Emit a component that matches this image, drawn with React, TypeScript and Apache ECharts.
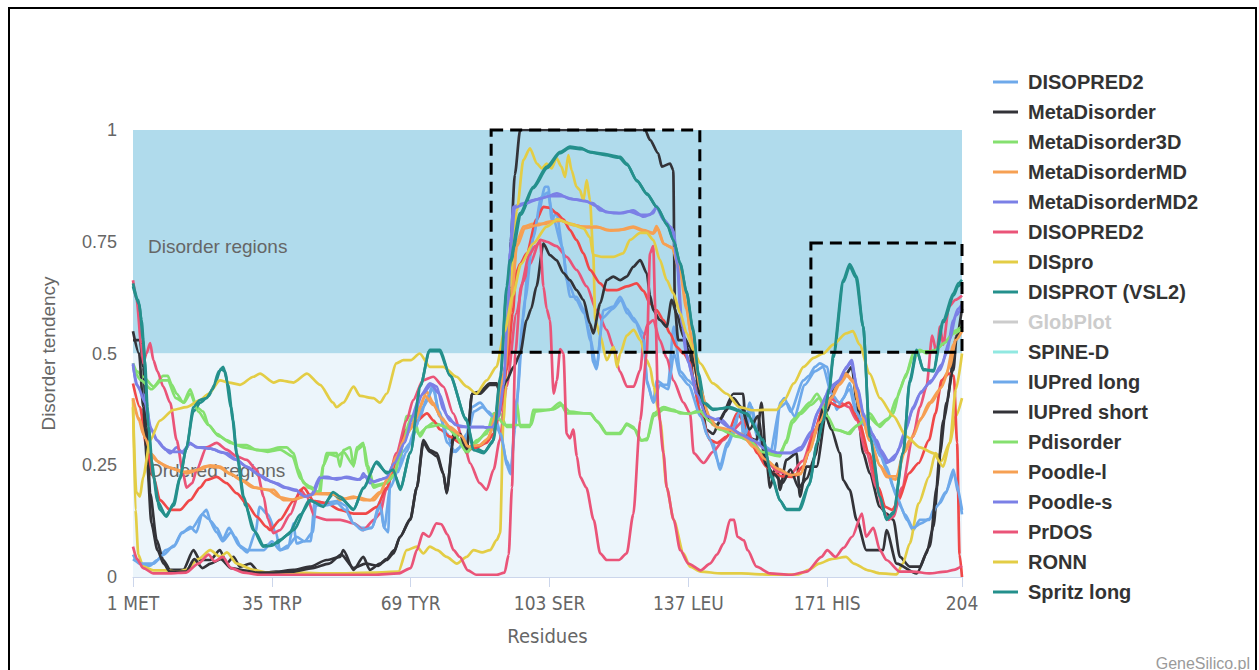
import React, { useEffect, useRef } from 'react';
import * as echarts from 'echarts';

// Residue positions shown on the x axis and their labels
const tickResidues = [1, 35, 69, 103, 137, 171, 204];
const tickLabels = ['1 MET', '35 TRP', '69 TYR', '103 SER', '137 LEU', '171 HIS', '204'];

// Predictor names as shown in the legend
const legendNames = [
  'DISOPRED2', 'MetaDisorder', 'MetaDisorder3D', 'MetaDisorderMD', 'MetaDisorderMD2',
  'DISOPRED2', 'DISpro', 'DISPROT (VSL2)', 'GlobPlot', 'SPINE-D', 'IUPred long',
  'IUPred short', 'Pdisorder', 'Poodle-l', 'Poodle-s', 'PrDOS', 'RONN', 'Spritz long',
];

// Disorder tendency per residue: [residue, score]
const disopred2 = [[1,0.05],[2.5,0.03],[5,0.025],[7,0.038],[9,0.06],[11,0.068],[13,0.098],[15,0.112],[16.5,0.1],[18,0.142],[19,0.15],[20,0.125],[21.5,0.11],[23,0.085],[24.5,0.11],[26,0.09],[27.5,0.065],[29,0.055],[31,0.1],[32,0.157],[34,0.14],[36,0.1],[37,0.06],[39,0.065],[40.3,0.12],[41,0.075],[43,0.08],[44.5,0.08],[45.5,0.17],[48,0.165],[51,0.17],[53,0.16],[55,0.12],[57,0.11],[59.5,0.11],[61.5,0.17],[62.5,0.11],[63.5,0.1],[64,0.24],[66,0.235],[67,0.28],[69,0.3],[71,0.35],[73,0.4],[74.5,0.43],[76,0.36],[78,0.32],[79.5,0.28],[81,0.29],[82.7,0.32],[84,0.38],[86,0.39],[88,0.37],[90,0.35],[91.5,0.3],[92.5,0.25],[93.5,0.23],[94.5,0.33],[96.5,0.58],[98,0.72],[100,0.8],[101.9,0.873],[102.7,0.873],[103.5,0.8],[104.7,0.814],[106.4,0.724],[107.2,0.664],[108,0.627],[109.6,0.627],[111.3,0.6],[112.9,0.545],[113.7,0.48],[114.5,0.465],[116.2,0.597],[118.6,0.605],[120.3,0.627],[121.9,0.6],[123.5,0.58],[126,0.545],[126.8,0.44],[128.4,0.39],[129.2,0.44],[131,0.43],[132,0.43],[133.4,0.56],[135,0.46],[137,0.44],[138.2,0.43],[140,0.37],[141.4,0.32],[143,0.3],[144.8,0.24],[146.4,0.29],[148,0.32],[149.7,0.38],[150.5,0.31],[152,0.39],[154,0.31],[156,0.29],[158,0.28],[159.5,0.39],[160.5,0.4],[162,0.37],[165.2,0.44],[166.5,0.45],[168,0.47],[169.2,0.478],[171,0.47],[172,0.42],[173.3,0.374],[175,0.4],[176.5,0.434],[178,0.38],[179.5,0.35],[181.4,0.336],[182.3,0.31],[184,0.277],[185.5,0.247],[187.2,0.2],[189,0.157],[190.5,0.128],[192,0.105],[193.7,0.128],[196,0.128],[197,0.15],[198.6,0.165],[200,0.187],[201.9,0.24],[203,0.19],[204,0.14]];

const metaDisorder = [[1,0.53],[2.7,0.53],[3.5,0.47],[4.35,0.336],[5.2,0.187],[6.8,0.083],[8.4,0.038],[10.1,0.016],[13.3,0.016],[15.8,0.06],[17.4,0.038],[19.9,0.038],[22.3,0.06],[23.9,0.03],[25.6,0.045],[27.2,0.023],[29.7,0.03],[32.1,0.008],[36,0.012],[40.3,0.016],[44.3,0.023],[48.4,0.038],[51.7,0.045],[52.5,0.06],[55,0.016],[57.4,0.045],[59,0.016],[61.5,0.03],[63.1,0.038],[64.8,0.053],[66.4,0.09],[68.9,0.128],[70.5,0.2],[72.1,0.306],[73.7,0.284],[75.4,0.277],[77,0.232],[77.8,0.187],[79.5,0.32],[81.1,0.32],[82.7,0.284],[84,0.41],[86,0.415],[88.4,0.433],[90.1,0.433],[90.9,0.41],[92.9,0.5],[93.5,0.75],[94.5,0.9],[95.8,1],[126.4,1],[127.6,0.978],[129.6,0.948],[130.5,0.918],[132.5,0.925],[133.3,0.91],[133.7,0.6],[134.5,0.53],[135.8,0.53],[137.4,0.5],[138.2,0.44],[139.8,0.426],[141.4,0.33],[143.1,0.32],[144.7,0.35],[148,0.41],[150.4,0.41],[151.2,0.314],[153.7,0.306],[154.9,0.39],[156.1,0.262],[157,0.2],[158.6,0.254],[159.4,0.195],[161,0.262],[163.5,0.277],[164.3,0.18],[165.9,0.247],[168.4,0.247],[170.8,0.37],[173.3,0.433],[175.7,0.455],[177,0.47],[178.2,0.396],[179.8,0.277],[181.4,0.232],[183.9,0.157],[185.5,0.142],[187.2,0.128],[188.8,0.045],[191.2,0.023],[193.7,0.023],[195.3,0.053],[197,0.112],[198.6,0.277],[200.2,0.39],[202.7,0.54],[204,0.6]];

const metaDisorder3D = [[1,0.478],[2,0.46],[3.5,0.448],[6,0.426],[8.4,0.45],[9.5,0.45],[10.5,0.43],[11.7,0.41],[13.3,0.39],[15,0.42],[16.6,0.38],[18.2,0.37],[19.5,0.34],[21.5,0.32],[23.9,0.306],[26.4,0.295],[28.8,0.295],[31.3,0.284],[34,0.284],[37,0.29],[38.6,0.29],[40.3,0.277],[41.5,0.24],[42.8,0.21],[44.4,0.202],[46.8,0.187],[47.6,0.247],[48.4,0.277],[50.9,0.277],[51.7,0.247],[52.5,0.284],[54.2,0.29],[55,0.247],[55.8,0.29],[57.4,0.3],[58.2,0.247],[59.9,0.2],[61.5,0.205],[63.1,0.21],[64.7,0.224],[66.4,0.27],[68,0.36],[69.6,0.36],[71.3,0.314],[72.9,0.336],[74.5,0.345],[77.8,0.336],[81.1,0.306],[82.7,0.277],[85.2,0.306],[87.6,0.32],[89.3,0.366],[90.9,0.366],[92.5,0.336],[94.1,0.336],[95,0.39],[95.8,0.336],[98.2,0.336],[99,0.374],[103,0.374],[105.6,0.39],[107.2,0.366],[113,0.366],[114.5,0.35],[117,0.32],[120.3,0.32],[121.9,0.343],[123.5,0.336],[125.2,0.306],[126.8,0.306],[128.5,0.366],[130.9,0.38],[133.4,0.374],[135,0.366],[137.4,0.366],[139.8,0.374],[141,0.36],[144.7,0.33],[148.8,0.314],[151.2,0.31],[155.3,0.277],[159.4,0.27],[161,0.306],[162.3,0.35],[164,0.366],[166.7,0.39],[168.5,0.41],[170,0.39],[172,0.33],[174,0.328],[176.5,0.32],[178,0.336],[179.8,0.35],[181.4,0.366],[183.9,0.336],[185.5,0.35],[187.2,0.366],[188.8,0.42],[190.4,0.455],[192,0.5],[193.7,0.508],[195.3,0.5],[197.8,0.51],[200.2,0.53],[202,0.55],[204,0.56]];

const metaDisorderMD = [[1,0.396],[2.5,0.35],[3.5,0.32],[5.2,0.277],[6.8,0.26],[9.2,0.247],[11.7,0.24],[14.1,0.232],[17.4,0.24],[19.9,0.25],[22.3,0.247],[24.7,0.232],[27.2,0.218],[30.5,0.2],[33.7,0.195],[35.4,0.195],[37.8,0.172],[40.3,0.172],[42.8,0.18],[45.2,0.187],[50,0.187],[51.7,0.172],[55,0.18],[57.4,0.172],[60,0.172],[61.5,0.187],[63.1,0.217],[65.5,0.27],[68,0.32],[68.9,0.33],[71.3,0.38],[72.9,0.415],[74.5,0.39],[76.2,0.36],[78.6,0.336],[81.1,0.32],[82.7,0.29],[85.2,0.29],[87.6,0.306],[89.3,0.336],[90.9,0.4],[92.5,0.48],[93.3,0.575],[94.1,0.664],[95,0.75],[96.6,0.784],[99,0.79],[102,0.79],[105,0.8],[108,0.79],[111,0.784],[114.5,0.784],[117,0.776],[120,0.776],[123.5,0.784],[126,0.776],[128.4,0.77],[129.2,0.785],[130.9,0.746],[132.5,0.739],[133.4,0.735],[135,0.687],[136.6,0.605],[137.4,0.55],[139,0.45],[141,0.38],[143,0.34],[145,0.33],[147,0.33],[150,0.32],[153,0.29],[156,0.26],[159,0.24],[162,0.225],[164.5,0.23],[166.5,0.28],[169.2,0.35],[171.6,0.39],[173.3,0.426],[175.6,0.455],[177.3,0.44],[178.9,0.38],[181.4,0.306],[183.9,0.25],[185.5,0.224],[187.8,0.218],[189.6,0.277],[191.2,0.306],[193.7,0.35],[196,0.39],[198.6,0.42],[200.2,0.455],[201.9,0.52],[203,0.545],[204,0.55]];

const metaDisorderMD2 = [[1,0.478],[1.8,0.43],[3.5,0.41],[5.2,0.336],[6.8,0.306],[8.4,0.29],[10.1,0.277],[11.7,0.29],[13.3,0.277],[15,0.3],[16.6,0.29],[19,0.29],[21,0.285],[22.3,0.28],[24,0.277],[26.4,0.262],[28.8,0.247],[31.3,0.232],[33.7,0.217],[36,0.21],[38.6,0.2],[41,0.195],[42.8,0.18],[44.4,0.18],[46.8,0.224],[48.5,0.224],[50.9,0.218],[53.3,0.224],[56.6,0.218],[57.4,0.232],[59,0.21],[61.5,0.218],[63.9,0.224],[65.5,0.262],[68,0.314],[68.9,0.35],[71.3,0.404],[73.7,0.433],[75.4,0.426],[77,0.374],[78.6,0.35],[81.1,0.336],[84.4,0.336],[86.8,0.336],[88.4,0.33],[90.1,0.35],[91.7,0.41],[92.5,0.54],[93.3,0.724],[94.1,0.828],[96.6,0.836],[99,0.843],[102,0.85],[104.8,0.858],[108,0.846],[111,0.843],[113.7,0.836],[115.4,0.82],[118.6,0.814],[121,0.814],[123.5,0.82],[126,0.806],[128.4,0.814],[129.2,0.83],[130.9,0.8],[132.5,0.784],[133.4,0.774],[134.1,0.724],[135.2,0.575],[136.5,0.5],[138,0.45],[139.8,0.39],[142.2,0.35],[144.7,0.355],[148,0.328],[151.2,0.314],[154.2,0.3],[157,0.277],[159.4,0.277],[162,0.277],[164.5,0.284],[166.7,0.314],[168.5,0.366],[170,0.39],[171.6,0.426],[174.1,0.44],[175.7,0.47],[177,0.485],[178.2,0.426],[179.8,0.366],[181.4,0.328],[183.1,0.306],[184.7,0.27],[185.5,0.255],[187.2,0.262],[188.8,0.29],[190.4,0.336],[192,0.38],[193.7,0.41],[196,0.433],[198.6,0.463],[200.2,0.5],[201.9,0.575],[203,0.6],[204,0.61]];

const disopred2b = [[1,0.664],[1.9,0.62],[3,0.52],[3.5,0.478],[4.3,0.5],[5.2,0.523],[6,0.485],[7,0.46],[8.4,0.426],[10.1,0.39],[11.7,0.306],[13.3,0.23],[14.1,0.2],[15.5,0.21],[16.6,0.24],[19,0.29],[21.5,0.3],[23.9,0.285],[26.4,0.27],[28.8,0.262],[31.3,0.24],[33,0.18],[34,0.13],[35.4,0.098],[37,0.105],[39.5,0.14],[42,0.195],[43.5,0.18],[45.5,0.135],[48.4,0.128],[51.7,0.128],[55,0.12],[57.4,0.105],[60,0.128],[61.5,0.142],[63,0.195],[65.5,0.277],[68,0.35],[69.6,0.396],[72,0.44],[74.5,0.448],[77,0.426],[79.4,0.366],[81.9,0.306],[83.5,0.255],[85.9,0.21],[87.6,0.195],[89.3,0.24],[90.8,0.306],[92.5,0.426],[94.9,0.59],[96.5,0.66],[98.2,0.7],[100.7,0.754],[102.3,0.75],[104.7,0.74],[107.2,0.716],[109.6,0.687],[112.1,0.65],[114.5,0.597],[117,0.553],[118.6,0.515],[120.2,0.46],[122,0.426],[123.6,0.426],[125.2,0.463],[126.2,0.54],[127,0.565],[128.4,0.575],[130,0.53],[131.7,0.49],[133.3,0.44],[135.8,0.39],[137.4,0.366],[138.3,0.277],[140.7,0.255],[143,0.28],[145.6,0.306],[148,0.33],[150.6,0.351],[153,0.3],[156,0.26],[159,0.235],[162,0.23],[165,0.26],[168,0.33],[170,0.38],[171.6,0.4],[174.1,0.39],[176.3,0.38],[178.2,0.351],[180.6,0.277],[183.1,0.2],[184.7,0.15],[186,0.128],[187.2,0.135],[189.3,0.2],[192,0.314],[193.7,0.38],[195.3,0.426],[196.7,0.54],[197.8,0.5],[198.6,0.56],[199.4,0.52],[200.8,0.605],[202.4,0.62],[204,0.63]];

const disPro = [[1,0.4],[1.6,0.15],[2.3,0.05],[3.5,0.023],[6,0.015],[9,0.015],[12,0.012],[14,0.016],[17,0.04],[19.9,0.06],[22.3,0.045],[24,0.055],[26.4,0.03],[30.5,0.016],[34,0.01],[40,0.01],[50,0.008],[60,0.01],[66,0.012],[68,0.06],[70.5,0.068],[72.1,0.053],[73.7,0.068],[75.5,0.06],[77.8,0.045],[80.3,0.03],[82.7,0.045],[84.4,0.06],[86.5,0.055],[88.4,0.06],[90.1,0.083],[90.9,0.098],[91.7,0.35],[93.3,0.65],[95,0.82],[96.6,0.933],[98.2,0.959],[99.9,0.925],[101.1,0.914],[102.3,0.925],[103.5,0.914],[104.7,0.937],[105.9,0.918],[106.8,0.895],[107.6,0.944],[108.4,0.91],[109.6,0.873],[110.4,0.866],[111.3,0.843],[112.1,0.888],[112.9,0.843],[113.7,0.724],[114.2,0.575],[115.4,0.54],[117,0.485],[118.7,0.515],[119.5,0.47],[120.3,0.5],[121.9,0.54],[123.6,0.553],[125.2,0.53],[126.8,0.485],[127.6,0.47],[128.5,0.426],[130.1,0.35],[131.7,0.2],[133.4,0.128],[135.8,0.053],[137.4,0.023],[140,0.012],[145,0.008],[150,0.008],[155,0.006],[160,0.005],[164,0.006],[166.5,0.016],[169,0.03],[172,0.04],[175.6,0.045],[177.5,0.03],[181,0.015],[184,0.008],[188,0.006],[189.5,0.03],[191.2,0.075],[193.4,0.165],[195.9,0.224],[197.5,0.277],[199,0.26],[201,0.3],[202.5,0.36],[204,0.4]];

const disprotVsl2 = [[1,0.65],[2.5,0.61],[3.5,0.53],[4.5,0.38],[5.5,0.26],[7,0.17],[9,0.138],[11,0.16],[12.5,0.22],[14,0.285],[15.8,0.37],[17.5,0.39],[19.5,0.405],[21,0.43],[22.5,0.465],[23.5,0.46],[25,0.38],[26.5,0.27],[28.5,0.16],[31,0.1],[33,0.07],[36,0.075],[39,0.095],[42,0.14],[44.5,0.17],[47.5,0.16],[50,0.185],[52,0.175],[55,0.152],[57.5,0.198],[60.5,0.255],[63,0.235],[65,0.23],[66.5,0.2],[69,0.28],[71.5,0.43],[73.5,0.505],[76,0.505],[78.5,0.455],[82.5,0.355],[84.5,0.29],[87,0.28],[89,0.3],[91,0.45],[92.5,0.64],[93.5,0.705],[96,0.81],[99,0.87],[102.5,0.915],[105.5,0.948],[108,0.96],[111,0.957],[113,0.95],[116,0.945],[120,0.938],[122,0.922],[124.5,0.885],[127,0.855],[129.5,0.825],[132,0.785],[133.5,0.75],[135,0.7],[136.5,0.64],[138,0.56],[139.5,0.455],[141,0.39],[143,0.376],[147,0.378],[151,0.366],[155,0.31],[157.5,0.225],[159.5,0.17],[161,0.152],[164,0.152],[166.5,0.205],[168.5,0.295],[170,0.35],[171.5,0.42],[172.5,0.49],[175,0.66],[176.5,0.695],[178,0.67],[179.8,0.56],[181.4,0.32],[184,0.18],[185.5,0.13],[187.2,0.145],[189.6,0.28],[191.2,0.435],[193,0.505],[194.5,0.465],[197,0.46],[199.5,0.57],[202,0.63],[203,0.65],[204,0.66]];

const globPlot = [[1,0.433],[2.7,0.38],[4.35,0.29],[6,0.224],[7.6,0.172],[10.1,0.15],[12.5,0.15],[15,0.172],[17.4,0.2],[19,0.217],[21.5,0.224],[23.9,0.21],[26.4,0.187],[28.8,0.165],[31.3,0.135],[33.7,0.112],[34.6,0.105],[37,0.128],[40.3,0.17],[42.8,0.2],[45.3,0.17],[48.4,0.165],[51.7,0.15],[55,0.142],[58,0.142],[60.7,0.157],[63.1,0.2],[65.5,0.26],[68,0.33],[70.5,0.35],[73,0.366],[74.6,0.35],[76.2,0.33],[78.6,0.314],[81.1,0.3],[82.7,0.284],[85.2,0.29],[87.5,0.3],[89.3,0.32],[90.8,0.366],[92.5,0.463],[94,0.59],[94.8,0.68],[95.8,0.7],[97.4,0.724],[99.8,0.8],[101.5,0.828],[103,0.826],[104.7,0.814],[106.4,0.8],[108,0.776],[109.6,0.754],[111.3,0.724],[112.9,0.687],[115.4,0.657],[117,0.642],[119.5,0.642],[121.9,0.65],[124.3,0.657],[126,0.64],[127.6,0.612],[129.2,0.597],[130.9,0.575],[132.5,0.545],[134.1,0.515],[135.8,0.5],[137.4,0.48],[138.3,0.433],[139.9,0.366],[142.3,0.306],[144,0.3],[146.4,0.314],[148.9,0.366],[150.5,0.35],[152,0.314],[153.8,0.277],[156.1,0.247],[157.8,0.232],[160,0.225],[162.8,0.224],[165,0.247],[167.7,0.314],[169.5,0.366],[171.6,0.39],[174,0.38],[176.3,0.39],[178.7,0.351],[181.2,0.277],[183.6,0.2],[185.2,0.157],[186.9,0.15],[188.5,0.172],[191,0.232],[193.4,0.255],[195.9,0.306],[197.5,0.366],[199,0.44],[200.8,0.455],[202,0.45],[202.8,0.3],[203.4,0.05],[204,0]];

const spineD: number[][] = [];

const iupredLong = [[1,0.04],[3,0.03],[6,0.03],[8.5,0.05],[11,0.07],[13,0.1],[15.5,0.11],[18,0.14],[19.5,0.13],[21.5,0.1],[23,0.08],[25,0.1],[27,0.07],[29,0.06],[31,0.06],[33,0.06],[35,0.08],[37,0.06],[39,0.07],[41,0.09],[43,0.08],[45,0.1],[45.8,0.16],[48,0.16],[51,0.165],[53,0.15],[55,0.12],[57,0.105],[59.5,0.11],[61.5,0.16],[62.5,0.11],[64,0.2],[66,0.24],[68,0.28],[70,0.33],[72,0.38],[74.5,0.42],[76,0.37],[78,0.3],[80,0.28],[82.7,0.31],[84.5,0.37],[86.5,0.38],[89,0.36],[91,0.32],[92.5,0.26],[93.5,0.24],[95,0.4],[97,0.62],[99,0.76],[101,0.85],[102.5,0.86],[104,0.8],[106,0.74],[107.5,0.66],[109.5,0.62],[111.5,0.59],[113,0.53],[114.5,0.47],[116,0.58],[118.5,0.6],[120.5,0.62],[122,0.59],[124,0.57],[126,0.53],[127,0.43],[128.5,0.39],[130,0.43],[132,0.42],[133.5,0.5],[135,0.45],[137,0.43],[140,0.36],[142,0.31],[144.8,0.25],[146.5,0.3],[149.7,0.37],[151,0.32],[152.5,0.38],[154,0.32],[157,0.28],[159.5,0.38],[161,0.39],[163,0.36],[165.5,0.43],[168,0.46],[170,0.47],[172,0.41],[174,0.39],[176.5,0.42],[178,0.37],[180,0.34],[182,0.31],[184,0.27],[186,0.23],[188,0.18],[190,0.14],[192,0.11],[194,0.12],[196,0.13],[198,0.16],[200,0.19],[202,0.23],[204,0.15]];

const iupredShort = [[1,0.55],[2.5,0.5],[3.5,0.38],[4.5,0.25],[5.5,0.12],[7,0.06],[8.5,0.03],[10,0.012],[14,0.012],[16,0.04],[18,0.02],[20,0.03],[22.5,0.04],[25,0.02],[28,0.015],[31,0.01],[35,0.01],[40,0.012],[45,0.02],[49,0.03],[52,0.05],[55,0.02],[58,0.03],[61,0.025],[63,0.04],[65,0.06],[66.4,0.09],[68.9,0.13],[70.5,0.2],[72.1,0.3],[73.7,0.28],[75.4,0.27],[77,0.23],[77.8,0.19],[79.5,0.31],[81.1,0.32],[82.7,0.28],[84,0.41],[86,0.41],[88.4,0.43],[90.1,0.43],[90.9,0.41],[92.5,0.44],[94.2,0.47],[95.8,0.5],[97.4,0.575],[98.5,0.6],[99.8,0.65],[101.5,0.746],[103.1,0.72],[104.7,0.709],[106.4,0.68],[108,0.664],[109.6,0.642],[111.3,0.62],[112.9,0.567],[113.7,0.545],[115.4,0.612],[117,0.664],[118.6,0.672],[120.3,0.664],[121.9,0.672],[123.5,0.694],[125.2,0.709],[126.8,0.68],[127.6,0.63],[128.4,0.597],[130,0.575],[131.7,0.56],[132.9,0.62],[134.1,0.59],[135.8,0.538],[137.4,0.515],[138.5,0.47],[140,0.4],[142,0.35],[144,0.34],[146,0.37],[148,0.4],[150,0.38],[152,0.33],[154,0.36],[156,0.25],[158,0.23],[160,0.21],[162,0.24],[164,0.2],[166,0.22],[168,0.27],[170,0.38],[172,0.33],[174.1,0.277],[174.9,0.217],[176.5,0.195],[178.2,0.128],[180.6,0.06],[184.7,0.06],[185.5,0.105],[188,0.03],[192.9,0.008],[196.1,0.068],[197.8,0.2],[199.4,0.35],[201.9,0.463],[202.7,0.54],[204,0.56]];

const pDisorder = [[1,0.47],[3,0.44],[5.5,0.42],[8,0.44],[9.5,0.44],[11.5,0.4],[13.5,0.39],[15,0.41],[17,0.37],[19.5,0.34],[22,0.315],[25,0.3],[28,0.29],[31,0.285],[34,0.28],[37,0.285],[40,0.27],[42,0.22],[44,0.2],[46.5,0.19],[47.6,0.25],[49,0.275],[51,0.27],[52.5,0.28],[55,0.25],[56,0.285],[57.5,0.295],[58.5,0.25],[60,0.205],[63,0.21],[65,0.23],[67,0.3],[69,0.355],[71,0.32],[73,0.335],[76,0.34],[79,0.33],[82.7,0.28],[85,0.3],[88,0.33],[90,0.36],[92,0.34],[94.5,0.34],[96,0.34],[98.5,0.34],[99.5,0.37],[104,0.375],[106,0.385],[108,0.37],[113,0.365],[115,0.345],[117,0.322],[120,0.322],[122,0.34],[124,0.33],[125.5,0.305],[127,0.31],[128.5,0.36],[131,0.375],[134,0.37],[137,0.365],[140,0.37],[142,0.35],[145,0.33],[149,0.315],[152,0.305],[155,0.28],[159,0.272],[161,0.3],[162.5,0.345],[164.5,0.365],[167,0.385],[169,0.4],[171,0.36],[173,0.33],[176,0.322],[178.5,0.34],[181,0.36],[183.5,0.34],[186,0.355],[188,0.4],[190,0.445],[192,0.49],[194,0.505],[197,0.505],[200,0.525],[202,0.545],[204,0.555]];

const poodleL = [[1,0.4],[2.5,0.355],[4,0.31],[5.5,0.275],[7.5,0.255],[10,0.245],[13,0.235],[16,0.238],[19,0.248],[22,0.245],[25,0.23],[28,0.215],[31,0.2],[34,0.195],[37,0.178],[40,0.173],[43,0.18],[46,0.186],[50,0.185],[53,0.175],[56,0.178],[59,0.172],[61.5,0.19],[63.5,0.222],[65.5,0.27],[68,0.318],[70,0.35],[72.5,0.405],[74.5,0.385],[77,0.35],[79,0.33],[81.5,0.315],[83,0.292],[86,0.295],[88,0.31],[90,0.37],[92,0.46],[93.5,0.6],[95,0.74],[97,0.78],[100,0.787],[103,0.795],[106,0.797],[109,0.787],[112,0.782],[115,0.782],[118,0.775],[121,0.777],[123.5,0.782],[126,0.774],[128.4,0.768],[129.5,0.78],[131,0.745],[133,0.736],[135,0.68],[136.5,0.6],[138,0.52],[140,0.42],[142,0.36],[144,0.335],[147,0.33],[150,0.318],[153,0.292],[156,0.262],[159,0.242],[162,0.228],[164.5,0.232],[166.5,0.28],[169,0.345],[172,0.4],[174,0.43],[175.8,0.45],[177.5,0.435],[179,0.375],[181.5,0.305],[184,0.248],[186,0.225],[188,0.225],[190,0.28],[192,0.315],[194,0.355],[196.5,0.39],[199,0.425],[201,0.47],[202.5,0.53],[204,0.55]];

const poodleS = [[1,0.475],[2,0.43],[4,0.39],[5.5,0.33],[7,0.305],[9,0.285],[11,0.28],[13,0.28],[15,0.298],[17,0.29],[20,0.287],[23,0.278],[26,0.263],[29,0.246],[32,0.228],[35,0.213],[38,0.2],[41,0.193],[43,0.18],[45,0.185],[47,0.222],[50,0.22],[53,0.222],[56,0.218],[58,0.225],[60,0.213],[63,0.222],[65,0.255],[67.5,0.3],[69.5,0.36],[72,0.41],[74,0.43],[76,0.41],[78,0.36],[80,0.34],[83,0.335],[86,0.335],[89,0.335],[90.5,0.36],[91.8,0.43],[92.7,0.58],[93.5,0.74],[94.5,0.826],[97,0.835],[100,0.845],[103,0.852],[106,0.852],[109,0.845],[112,0.84],[114.5,0.83],[117,0.816],[120,0.814],[122.5,0.818],[125,0.81],[127.5,0.81],[129.2,0.826],[131,0.798],[133,0.78],[134.3,0.7],[135.5,0.56],[137,0.48],[139,0.41],[141.5,0.36],[144,0.352],[147,0.335],[150,0.318],[153,0.305],[156,0.285],[159,0.278],[162,0.278],[164.5,0.29],[167,0.325],[169,0.375],[171,0.41],[173.5,0.435],[175.5,0.465],[176.8,0.48],[178.5,0.42],[180,0.36],[182,0.32],[184,0.285],[186,0.26],[188,0.275],[190,0.325],[192,0.375],[194,0.415],[196.5,0.44],[199,0.475],[201,0.53],[202.5,0.585],[204,0.605]];

const prDos = [[1,0.068],[2,0.04],[3.5,0.02],[6,0.008],[10,0.008],[14,0.01],[17,0.03],[19.5,0.05],[21,0.035],[23,0.045],[25,0.02],[28,0.01],[32,0.005],[40,0.005],[50,0.005],[60,0.005],[66,0.008],[69,0.02],[70.5,0.06],[72,0.098],[73.5,0.09],[75.3,0.12],[76.5,0.118],[78,0.095],[79.5,0.06],[81,0.045],[83,0.015],[85,0.005],[90,0.005],[92,0.01],[93,0.05],[93.8,0.2],[94.6,0.5],[96,0.65],[98,0.72],[99.5,0.74],[100.7,0.75],[101.5,0.65],[102.3,0.6],[103.1,0.575],[104,0.41],[104.8,0.44],[105.6,0.51],[106.4,0.5],[107.2,0.32],[108,0.31],[108.8,0.33],[109.7,0.27],[110.5,0.224],[112,0.2],[113.8,0.128],[115.4,0.053],[117,0.038],[120,0.038],[121.9,0.053],[123.5,0.14],[125.2,0.35],[126.8,0.5],[127.6,0.724],[128.4,0.74],[128.9,0.6],[129.6,0.38],[130.9,0.277],[131.7,0.2],[133.4,0.128],[135,0.06],[137,0.03],[140,0.015],[142.3,0.03],[144,0.05],[145.6,0.075],[147.2,0.128],[148.2,0.128],[149,0.09],[150.6,0.082],[151.5,0.06],[153.7,0.023],[157,0.008],[162,0.005],[166,0.012],[169.6,0.045],[171,0.06],[173,0.045],[175,0.065],[177.1,0.09],[179.5,0.142],[180.5,0.09],[182.3,0.11],[183.9,0.06],[185.5,0.038],[188.8,0.012],[192,0.012],[196,0.008],[200,0.012],[202,0.016],[204,0.025]];

const ronn = [[1,0.38],[1.8,0.19],[2.7,0.18],[3.5,0.224],[5.2,0.306],[7.6,0.35],[10.9,0.374],[14.1,0.38],[17.4,0.396],[19.5,0.41],[22.3,0.44],[24.5,0.435],[27.2,0.43],[30.5,0.448],[32.1,0.455],[35.4,0.435],[37,0.44],[40.3,0.435],[43.6,0.455],[46.8,0.43],[50,0.39],[50.8,0.38],[52.5,0.39],[55,0.426],[56.6,0.405],[59.9,0.4],[61.5,0.39],[63.1,0.41],[65.5,0.478],[67.2,0.485],[69,0.485],[71.2,0.5],[73.7,0.47],[77,0.47],[80.2,0.448],[82.7,0.426],[85.1,0.41],[87.6,0.44],[90,0.47],[92,0.55],[94,0.63],[96,0.7],[99,0.746],[102.3,0.784],[105,0.8],[108,0.79],[111.3,0.78],[112.9,0.76],[113.7,0.72],[116,0.716],[118.6,0.716],[121,0.724],[122.7,0.754],[125.2,0.77],[126.8,0.77],[128.4,0.754],[130,0.71],[131.7,0.664],[133.3,0.635],[135,0.59],[136.6,0.545],[138.2,0.508],[139.9,0.478],[143,0.433],[146.4,0.41],[149.5,0.38],[152.9,0.373],[156,0.374],[158.6,0.374],[160.5,0.396],[162.8,0.433],[165.2,0.47],[167.7,0.49],[170,0.5],[172.5,0.52],[175.6,0.545],[177.3,0.55],[178.9,0.52],[181.4,0.455],[183.9,0.4],[187.2,0.36],[190.4,0.314],[193.7,0.29],[197,0.277],[199.4,0.247],[201,0.3],[202.5,0.42],[204,0.5]];

const spritzLong = [[1,0.657],[2.3,0.62],[3.1,0.575],[3.9,0.485],[4.8,0.336],[6,0.224],[7.6,0.15],[9.2,0.135],[10.9,0.165],[12.5,0.224],[14.1,0.29],[15.8,0.38],[17.4,0.396],[19,0.4],[20.5,0.42],[22,0.46],[23.1,0.47],[24.3,0.43],[25.5,0.35],[26.4,0.277],[28,0.18],[30.5,0.105],[32.9,0.068],[35,0.07],[37,0.083],[40.3,0.105],[44.3,0.172],[47.6,0.157],[50,0.19],[51.7,0.18],[55,0.15],[57.4,0.2],[60.7,0.258],[63.1,0.232],[64.7,0.24],[66.4,0.195],[68.9,0.277],[71.3,0.426],[73.7,0.508],[76.2,0.508],[78.6,0.45],[82.7,0.35],[84.4,0.284],[86.8,0.277],[89.3,0.306],[90.9,0.44],[92.5,0.65],[93.3,0.709],[95.8,0.814],[99,0.873],[102.3,0.918],[105.6,0.951],[108,0.963],[110.5,0.96],[112.9,0.951],[115.4,0.948],[120.3,0.94],[121.9,0.925],[124.3,0.888],[126.8,0.858],[129.2,0.828],[131.7,0.79],[133.3,0.754],[135,0.702],[136.6,0.635],[138.2,0.55],[139.5,0.45],[140.6,0.39],[143.1,0.374],[147.1,0.38],[151.2,0.366],[155.3,0.306],[157.5,0.22],[159.4,0.172],[161,0.15],[164.3,0.15],[166.7,0.21],[168.5,0.3],[170,0.35],[171.5,0.42],[172.5,0.5],[174.9,0.664],[176.5,0.7],[178.2,0.672],[179.8,0.56],[181.4,0.314],[183.9,0.18],[185.5,0.128],[187.2,0.142],[189.6,0.277],[191.2,0.44],[192.9,0.508],[194.5,0.463],[197,0.463],[199.4,0.575],[201.9,0.635],[203.1,0.657],[204,0.665]];

// Score thresholds for the shaded bands and the two highlighted segments
const disorderBand = [0.5, 1];
const orderBand = [0, 0.5];
const highlightBoxes = [
  { from: 88.7, to: 139.8, low: 0.503, high: 1.009 },
  { from: 167.0, to: 204.0, low: 0.503, high: 0.747 },
];

const seriesDefs = [
  { key: 'DISOPRED2', color: '#6ea9ea', data: disopred2 },
  { key: 'MetaDisorder', color: '#333338', data: metaDisorder },
  { key: 'MetaDisorder3D', color: '#85e06f', data: metaDisorder3D },
  { key: 'MetaDisorderMD', color: '#f6a053', data: metaDisorderMD },
  { key: 'MetaDisorderMD2', color: '#7b80e6', data: metaDisorderMD2 },
  { key: 'DISOPRED2_b', color: '#ea5478', data: disopred2b },
  { key: 'DISpro', color: '#e3cd45', data: disPro },
  { key: 'DISPROT (VSL2)', color: '#24908c', data: disprotVsl2 },
  { key: 'GlobPlot', color: '#f04848', data: globPlot },
  { key: 'SPINE-D', color: '#91e8e1', data: spineD },
  { key: 'IUPred long', color: '#6ea9ea', data: iupredLong },
  { key: 'IUPred short', color: '#333338', data: iupredShort },
  { key: 'Pdisorder', color: '#85e06f', data: pDisorder },
  { key: 'Poodle-l', color: '#f6a053', data: poodleL },
  { key: 'Poodle-s', color: '#7b80e6', data: poodleS },
  { key: 'PrDOS', color: '#ea5478', data: prDos },
  { key: 'RONN', color: '#e3cd45', data: ronn },
  { key: 'Spritz long', color: '#24908c', data: spritzLong },
];

const BASE_FONT = "'Liberation Sans', Arial, sans-serif";
const NARROW_FONT = "'Liberation Sans Narrow', 'DejaVu Sans Condensed', sans-serif";

function buildOption() {
  const labelOf: Record<string, string> = {};
  seriesDefs.forEach((s, i) => { labelOf[s.key] = legendNames[i]; });

  const lineSeries = seriesDefs.map((s) => ({
    type: 'line',
    name: s.key,
    data: s.data,
    symbol: 'none',
    showSymbol: false,
    smooth: 0.25,
    smoothMonotone: 'x',
    silent: true,
    z: 2,
    lineStyle: { width: 2.7, color: s.color },
    itemStyle: { color: s.color },
  }));

  const bandSeries = {
    type: 'line',
    name: 'bands',
    data: [],
    silent: true,
    z: 1,
    markArea: {
      silent: true,
      z: 1,
      label: {
        show: true,
        position: 'insideLeft',
        distance: 15,
        color: '#666',
        fontSize: 19,
        fontFamily: BASE_FONT,
      },
      data: [
        [
          { name: 'Disorder regions', yAxis: disorderBand[0], itemStyle: { color: '#b0dbec' }, label: { offset: [0, 5] } },
          { yAxis: disorderBand[1] },
        ],
        [
          { name: 'Ordered regions', yAxis: orderBand[0], itemStyle: { color: '#ecf5fb' }, label: { offset: [0, 5] } },
          { yAxis: orderBand[1] },
        ],
      ],
    },
  };

  const boxSeries = {
    type: 'line',
    name: 'boxes',
    data: [],
    silent: true,
    clip: false,
    z: 10,
    markArea: {
      silent: true,
      z: 10,
      label: { show: false },
      itemStyle: {
        color: 'rgba(0,0,0,0)',
        borderColor: '#000',
        borderWidth: 3,
        borderType: [12, 7],
      },
      data: highlightBoxes.map((b) => [
        { xAxis: b.from, yAxis: b.high },
        { xAxis: b.to, yAxis: b.low },
      ]),
    },
  };

  return {
    animation: false,
    backgroundColor: '#ffffff',
    textStyle: { fontFamily: BASE_FONT },
    grid: { left: 133, right: 297, top: 130, bottom: 93, containLabel: false },
    legend: {
      orient: 'vertical',
      left: 988,
      top: 67,
      itemGap: 10,
      itemWidth: 25,
      itemHeight: 3,
      icon: 'rect',
      inactiveColor: '#cccccc',
      selectedMode: false,
      textStyle: {
        fontSize: 20,
        fontWeight: 'bold',
        color: '#333333',
        lineHeight: 20,
        padding: [0, 0, 0, 5],
        fontFamily: BASE_FONT,
      },
      formatter: (name: string) => labelOf[name] ?? name,
      data: seriesDefs.map((s) =>
        s.key === 'GlobPlot'
          ? { name: s.key, itemStyle: { color: '#cccccc' }, lineStyle: { color: '#cccccc' }, textStyle: { color: '#cccccc' } }
          : { name: s.key }
      ),
    },
    xAxis: {
      type: 'value',
      min: 1,
      max: 204,
      name: 'Residues',
      nameLocation: 'middle',
      nameGap: 49,
      nameTextStyle: { color: '#666', fontSize: 20, fontFamily: NARROW_FONT },
      axisLine: { show: true, lineStyle: { color: '#ccd6eb', width: 1 } },
      axisTick: { show: true, length: 10, lineStyle: { color: '#ccd6eb' }, customValues: tickResidues },
      axisLabel: {
        color: '#666',
        fontSize: 19,
        fontFamily: NARROW_FONT,
        margin: 16,
        customValues: tickResidues,
        formatter: (v: number) => {
          const i = tickResidues.indexOf(Math.round(v));
          return i >= 0 ? tickLabels[i] : '';
        },
      },
      splitLine: { show: false },
    },
    yAxis: {
      type: 'value',
      min: 0,
      max: 1,
      interval: 0.25,
      name: 'Disorder tendency',
      nameLocation: 'middle',
      nameGap: 75,
      nameTextStyle: { color: '#666', fontSize: 19 },
      axisLine: { show: false },
      axisTick: { show: false },
      splitLine: { show: false },
      axisLabel: { color: '#666', fontSize: 18, margin: 16 },
    },
    graphic: [
      {
        type: 'rect',
        silent: true,
        z: 100,
        shape: { x: 9, y: 8, width: 1247, height: 720 },
        style: { fill: 'none', stroke: '#000', lineWidth: 2 },
      },
      {
        type: 'text',
        silent: true,
        x: 1250,
        y: 663,
        style: {
          text: 'GeneSilico.pl',
          align: 'right',
          verticalAlign: 'middle',
          fill: '#9a9a9a',
          fontSize: 16,
          fontFamily: BASE_FONT,
        },
      },
    ],
    series: [bandSeries, ...lineSeries, boxSeries],
  };
}

export default function App() {
  const ref = useRef<HTMLDivElement>(null);
  useEffect(() => {
    if (!ref.current) return;
    const chart = echarts.init(ref.current, undefined, { renderer: 'svg' });
    chart.setOption(buildOption() as any);
    return () => chart.dispose();
  }, []);
  return (
    <div
      ref={ref}
      style={{ position: 'fixed', left: 0, top: 0, width: 1259, height: 670, background: '#fff' }}
    />
  );
}
